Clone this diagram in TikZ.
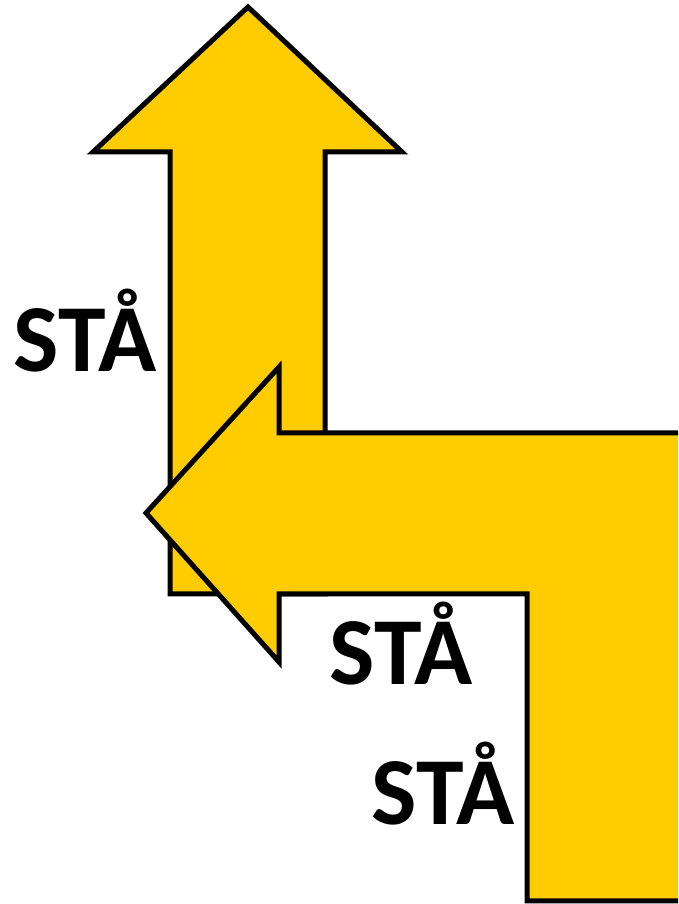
\documentclass[tikz,border=0pt]{standalone}
\usepackage{fontspec}
\setmainfont{Carlito}
\usetikzlibrary{positioning}
\definecolor{signyellow}{RGB}{255,204,0}
\tikzset{
    sign arrow/.style = {draw, fill=signyellow, line width=5pt, line join=miter},
    sign label/.style = {anchor=base, inner sep=0pt, font=\fontsize{96}{96}\selectfont\bfseries},
}

\begin{document}
\begin{tikzpicture}[x=1pt, y=1pt]
                \useasboundingbox (0, 0) rectangle (678, 904);
                \clip (0, 0) rectangle (678, 904);

                % pil rakt fram
                \draw[sign arrow] (248, 897) -- (402, 752) -- (325, 752) -- (325, 310)
                    -- (170, 310) -- (170, 752) -- (93, 752) -- cycle;
                % pil som svanger till vanster
                \draw[sign arrow] (146, 391) -- (279, 537) -- (279, 471) -- (720, 471)
                    -- (720, 3) -- (527, 3) -- (527, 310) -- (279, 310) -- (279, 242) -- cycle;

                \node[sign label] (staUpp) at (85, 532) {STÅ};
                \node[sign label] (staMitt) at (401, 219) {STÅ};
                \node[sign label] (staNer) at (443, 79) {STÅ};
            \end{tikzpicture}
\end{document}
